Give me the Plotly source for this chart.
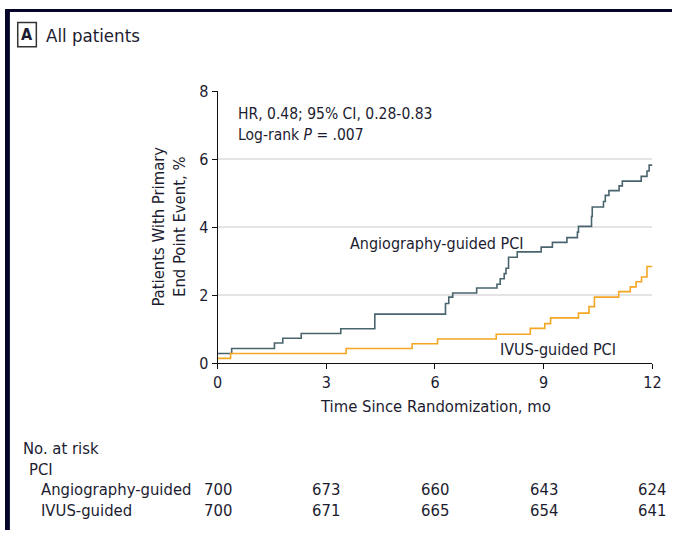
import plotly.graph_objects as go

# Kaplan-Meier cumulative event curves (time in months, event rate in %)
angio_t = [0, 0.39, 1.57, 1.80, 2.31, 3.40, 4.34, 6.29, 6.38, 6.49, 7.15, 7.71, 7.80,
           7.91, 7.96, 8.03, 8.27, 8.93, 9.24, 9.64, 9.93, 9.96, 10.32, 10.34, 10.65,
           10.70, 10.80, 11.08, 11.17, 11.69, 11.85, 11.91, 12.0]
angio_y = [0.28, 0.43, 0.59, 0.73, 0.87, 1.01, 1.44, 1.75, 1.94, 2.06, 2.21, 2.32, 2.48,
           2.63, 2.79, 3.11, 3.27, 3.41, 3.55, 3.69, 3.85, 4.02, 4.31, 4.59, 4.75,
           4.93, 5.07, 5.21, 5.35, 5.49, 5.65, 5.82, 5.82]

ivus_t = [0, 0.36, 3.55, 5.37, 6.07, 7.69, 8.63, 9.03, 9.19, 9.96, 10.25, 10.40,
          11.07, 11.39, 11.55, 11.70, 11.85, 12.0]
ivus_y = [0.14, 0.28, 0.43, 0.57, 0.71, 0.85, 1.02, 1.16, 1.33, 1.47, 1.66, 1.94,
          2.10, 2.24, 2.39, 2.53, 2.84, 2.84]

x_ticks = [0, 3, 6, 9, 12]
y_ticks = [0, 2, 4, 6, 8]

# Number at risk table
risk_times = [0, 3, 6, 9, 12]
risk_angio = [700, 673, 660, 643, 624]
risk_ivus = [700, 671, 665, 654, 641]

W, H = 681, 540
FONT = "DejaVu Sans Condensed, Liberation Sans Narrow, sans-serif"
TXT = "#1c1c30"
ANGIO_C = "#4a646e"
IVUS_C = "#f5a623"
NAVY = "#06062a"

# plot area in pixels
PX_L, PX_R, PX_T, PX_B = 217, 661, 85, 367

fig = go.Figure()
fig.add_trace(go.Scatter(x=angio_t, y=angio_y, mode="lines", line_shape="hv",
                         line=dict(color=ANGIO_C, width=1.6), showlegend=False,
                         cliponaxis=False))
fig.add_trace(go.Scatter(x=ivus_t, y=ivus_y, mode="lines", line_shape="hv",
                         line=dict(color=IVUS_C, width=1.6), showlegend=False,
                         cliponaxis=False))

def px(x):
    return x / W

def py(y):
    return 1 - y / H

ann = []
def text(x, y, s, size=16, xanchor="left", xref="paper", yref="paper", **kw):
    ann.append(dict(x=x, y=y, xref=xref, yref=yref, text=s, showarrow=False,
                    xanchor=xanchor, yanchor="middle",
                    font=dict(family=FONT, size=size, color=TXT), **kw))

# panel header
text(px(40), py(27), "All patients", size=18.5)
text(px(22.5), py(26.5), "<b>A</b>", size=16, xanchor="center")

# statistics
text(0.5, 7.32, "HR, 0.48; 95% CI, 0.28-0.83", size=15.5, xref="x", yref="y")
text(0.5, 6.72, "Log-rank <i>P</i> = .007", size=15.5, xref="x", yref="y")

# curve labels
text(3.59, 3.52, "Angiography-guided PCI", xref="x", yref="y")
text(7.73, 0.40, "IVUS-guided PCI", xref="x", yref="y")

# axis titles
text(px(439.5), py(412), "Time Since Randomization, mo", size=16.5, xanchor="center")
ann.append(dict(x=px(167), y=py(226), xref="paper", yref="paper",
                text="Patients With Primary<br>End Point Event, %", showarrow=False,
                textangle=-90, xanchor="center", yanchor="middle", align="center",
                font=dict(family=FONT, size=16.5, color=TXT)))

# number at risk table
text(px(16), py(456), "No. at risk", size=16.5)
text(px(22), py(477), "PCI", size=16.5)
text(px(35), py(498), "Angiography-guided", size=16.5)
text(px(35), py(520), "IVUS-guided", size=16.5)
for t, a, v in zip(risk_times, risk_angio, risk_ivus):
    text(t, py(498), str(a), size=16.5, xanchor="center", xref="x")
    text(t, py(520), str(v), size=16.5, xanchor="center", xref="x")

shapes = [
    # navy frame strips
    dict(type="rect", xref="paper", yref="paper", x0=0, x1=1, y0=py(3), y1=1,
         fillcolor=NAVY, line_width=0, layer="above"),
    dict(type="rect", xref="paper", yref="paper", x0=0, x1=px(5), y0=0, y1=1,
         fillcolor=NAVY, line_width=0, layer="above"),
    # box around panel letter
    dict(type="rect", xref="paper", yref="paper", x0=px(13), x1=px(32),
         y0=py(39), y1=py(14), line=dict(color="#333333", width=1.5)),
]

fig.update_layout(
    width=W, height=H,
    margin=dict(l=0, r=0, t=0, b=0),
    paper_bgcolor="white", plot_bgcolor="white",
    annotations=ann, shapes=shapes,
    xaxis=dict(domain=[px(PX_L), px(PX_R)], range=[0, 12], tickvals=x_ticks,
               showgrid=False, zeroline=False, showline=True, linecolor="#111111",
               linewidth=1, ticks="outside", ticklen=5, tickcolor="#111111",
               tickfont=dict(family=FONT, size=16, color=TXT), fixedrange=True),
    yaxis=dict(domain=[py(PX_B), py(PX_T)], range=[0, 8], tickvals=y_ticks,
               showgrid=True, gridcolor="#e4e4e4", gridwidth=1.5, zeroline=False,
               showline=True, linecolor="#111111", linewidth=1, ticks="outside",
               ticklen=5, tickcolor="#111111",
               tickfont=dict(family=FONT, size=16, color=TXT), fixedrange=True),
)

fig.write_html("out.html", config={"displayModeBar": False},
               post_script="document.body.style.margin='0';"
                           "document.body.style.overflow='hidden';")
